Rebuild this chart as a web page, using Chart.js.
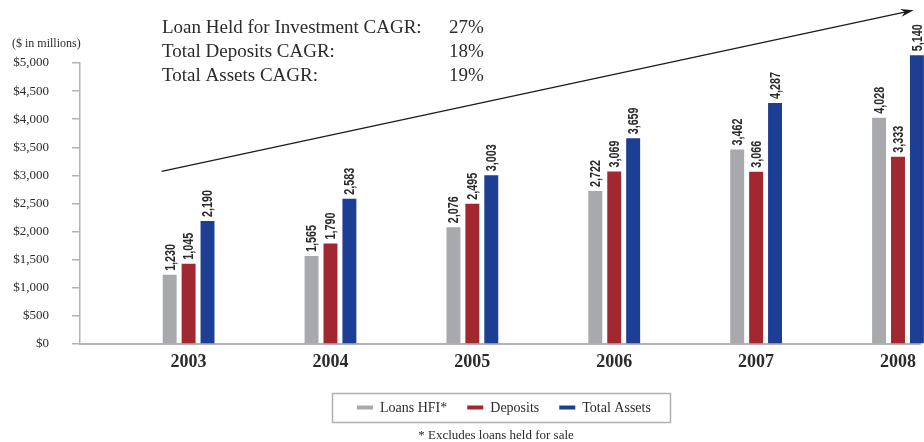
<!DOCTYPE html>
<html>
<head>
<meta charset="utf-8">
<script src="https://cdn.jsdelivr.net/npm/chart.js@4.4.1/dist/chart.umd.min.js"></script>
<style>
  html, body { margin: 0; padding: 0; background: #fff; }
  #wrap { width: 924px; height: 442px; }
</style>
</head>
<body>
<div id="wrap"><canvas id="myChart" width="924" height="442"></canvas></div>
<script>
// values
const years = [2003, 2004, 2005, 2006, 2007, 2008]
const loans = [1230, 1565, 2076, 2722, 3462, 4028]
const deposits = [1045, 1790, 2495, 3069, 3066, 3333]      // printed numbers
const depositBars = [1430, 1790, 2495, 3069, 3066, 3333]   // 2003 bar is drawn taller than its label
const assets = [2190, 2583, 3003, 3659, 4287, 5140]
const seriesNames = ['Loans HFI*', 'Deposits', 'Total Assets']
const yTicks = [0, 500, 1000, 1500, 2000, 2500, 3000, 3500, 4000, 4500, 5000]
const cagrNames = ['Loan Held for Investment CAGR:', 'Total Deposits CAGR:', 'Total Assets CAGR:']
const cagrValues = ['27%', '18%', '19%']
// growth arrow, in data units (year, $m)
const arrowFrom = { x: 2002.81, y: 3070 }
const arrowTo = { x: 2008.11, y: 5940 }

const colors = ['#a8a9ac', '#a12830', '#1c3e93']
const serif = '"Liberation Serif", "Times New Roman", serif'
const sans = '"Liberation Sans", Arial, sans-serif'

const printed = [loans, deposits, assets]

function pts(arr) {
  return arr.map((v, i) => ({ x: years[i], y: v }))
}

const extras = {
  id: 'extras',
  afterDatasetsDraw(chart) {
    const ctx = chart.ctx
    // value labels, squeezed to look like a condensed face
    ctx.save()
    ctx.fillStyle = '#2b2b2b'
    ctx.font = 'bold 14px ' + sans
    chart.data.datasets.forEach((ds, i) => {
      chart.getDatasetMeta(i).data.forEach((bar, j) => {
        ctx.save()
        ctx.translate(bar.x, bar.y - 4)
        ctx.rotate(-Math.PI / 2)
        ctx.scale(0.77, 1)
        ctx.textAlign = 'left'
        ctx.textBaseline = 'middle'
        ctx.fillText(printed[i][j].toLocaleString('en-US'), 0, 1)
        ctx.restore()
      })
    })
    ctx.restore()

    // arrow
    const xs = chart.scales.x, ys = chart.scales.y
    const x1 = xs.getPixelForValue(arrowFrom.x), y1 = ys.getPixelForValue(arrowFrom.y)
    const x2 = xs.getPixelForValue(arrowTo.x), y2 = ys.getPixelForValue(arrowTo.y)
    const ang = Math.atan2(y2 - y1, x2 - x1)
    const c = Math.cos(ang), s = Math.sin(ang)
    ctx.save()
    ctx.strokeStyle = '#1a1a1a'
    ctx.fillStyle = '#1a1a1a'
    ctx.lineWidth = 1.3
    ctx.beginPath()
    ctx.moveTo(x1, y1)
    ctx.lineTo(x2 - 8 * c, y2 - 8 * s)
    ctx.stroke()
    ctx.beginPath()
    ctx.moveTo(x2, y2)
    ctx.lineTo(x2 - 13 * c + 4 * s, y2 - 13 * s - 4 * c)
    ctx.lineTo(x2 - 9 * c, y2 - 9 * s)
    ctx.lineTo(x2 - 13 * c - 4 * s, y2 - 13 * s + 4 * c)
    ctx.closePath()
    ctx.fill()
    ctx.restore()
  },
  afterDraw(chart) {
    const ctx = chart.ctx
    ctx.save()
    ctx.fillStyle = '#2b2b2b'
    ctx.textBaseline = 'alphabetic'
    // unit note
    ctx.font = '12px ' + serif
    ctx.textAlign = 'left'
    ctx.fillText('($ in millions)', 12, 47)
    // CAGR block
    ctx.font = '19px ' + serif
    cagrNames.forEach((t, i) => {
      ctx.fillText(t, 162, 33 + i * 23.8)
      ctx.fillText(cagrValues[i], 449, 33 + i * 23.8)
    })
    // legend box
    ctx.strokeStyle = '#b0b0b0'
    ctx.lineWidth = 1.5
    ctx.strokeRect(332.5, 393.5, 338, 29)
    ctx.font = '14px ' + serif
    ctx.textBaseline = 'middle'
    let x = 357
    chart.data.datasets.forEach((ds) => {
      ctx.fillStyle = ds.backgroundColor
      ctx.fillRect(x, 405.5, 16, 4)
      ctx.fillStyle = '#2b2b2b'
      ctx.fillText(ds.label, x + 23, 408)
      x += 23 + ctx.measureText(ds.label).width + 20
    })
    // footnote
    ctx.font = '13px ' + serif
    ctx.textAlign = 'center'
    ctx.textBaseline = 'alphabetic'
    ctx.fillText('* Excludes loans held for sale', 496, 439)
    ctx.restore()
  }
}

const ctx = document.getElementById('myChart')
new Chart(ctx, {
  type: 'bar',
  data: {
    datasets: [
      { label: seriesNames[0], data: pts(loans), backgroundColor: colors[0] },
      { label: seriesNames[1], data: pts(depositBars), backgroundColor: colors[1] },
      { label: seriesNames[2], data: pts(assets), backgroundColor: colors[2] }
    ]
  },
  options: {
    responsive: false,
    animation: false,
    devicePixelRatio: 1,
    layout: { padding: { top: 63, right: 0, left: 0, bottom: 0 } },
    datasets: { bar: { categoryPercentage: 0.4, barPercentage: 0.737, clip: false } },
    plugins: { legend: { display: false }, tooltip: { enabled: false } },
    scales: {
      x: {
        type: 'linear',
        offset: false,
        bounds: 'data',
        min: 2002.2346,
        max: 2008.1615,
        afterBuildTicks: (s) => { s.ticks = years.map(v => ({ value: v })) },
        afterFit: (s) => { s.height = 98 },
        grid: { offset: false, drawOnChartArea: false, drawTicks: false },
        border: { color: '#b3b3b3', width: 2 },
        ticks: {
          padding: 8,
          color: '#2b2b2b',
          font: { family: serif, size: 18, weight: 'bold' },
          callback: (v) => String(v)
        }
      },
      y: {
        min: 0,
        max: 5000,
        afterBuildTicks: (s) => { s.ticks = yTicks.map(v => ({ value: v })) },
        afterFit: (s) => { s.width = 80 },
        grid: { drawOnChartArea: false, drawTicks: true, tickLength: 8, color: '#b3b3b3', lineWidth: 1.5 },
        border: { color: '#b3b3b3', width: 1.5 },
        ticks: {
          padding: 23,
          color: '#2b2b2b',
          font: { family: serif, size: 13 },
          callback: (v) => '$' + v.toLocaleString('en-US')
        }
      }
    }
  },
  plugins: [extras]
})
</script>
</body>
</html>
